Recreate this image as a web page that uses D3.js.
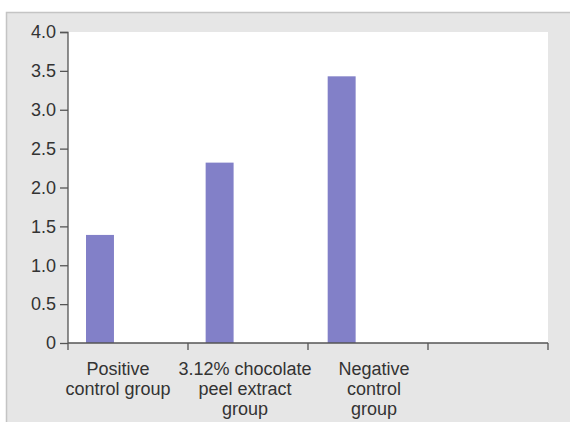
<!DOCTYPE html>
<html>
<head>
<meta charset="utf-8">
<script src="https://cdn.jsdelivr.net/npm/d3@7"></script>
<style>
  body { margin: 0; background: #fff; }
  svg { display: block; font-family: "Liberation Sans", Arial, sans-serif; }
  .axis path, .axis line { stroke: #555; stroke-width: 1.3; }
  .axis text { fill: #333; font-size: 18px; }
</style>
</head>
<body>
<div id="chart"></div>
<script>
// categories (4th slot is empty in the original)
const groups = ["Positive control group", "3.12% chocolate peel extract group", "Negative control group", ""];
const labelLines = [["Positive", "control group"], ["3.12% chocolate", "peel extract", "group"], ["Negative", "control", "group"], []];
const values = [1.39, 2.32, 3.43];
const yTicks = [0, 0.5, 1.0, 1.5, 2.0, 2.5, 3.0, 3.5, 4.0];

const W = 570, H = 422;
const margin = {top: 32, right: 22, bottom: 79, left: 68};
const width = W - margin.left - margin.right;
const height = H - margin.top - margin.bottom;

const svg = d3.select("#chart").append("svg")
    .attr("width", W)
    .attr("height", H);

// grey panel
svg.append("rect")
    .attr("x", 6.5).attr("y", 12.5)
    .attr("width", W).attr("height", H)
    .attr("fill", "#e6e6e6")
    .attr("stroke", "#c4c4c4")
    .attr("stroke-width", 1.5);

const g = svg.append("g")
    .attr("transform", `translate(${margin.left},${margin.top})`);

g.append("rect")
    .attr("width", width).attr("height", height)
    .attr("fill", "#fff");

const x = d3.scaleBand()
    .domain(groups.map((d, i) => i))
    .range([0, width])
    .padding(0);

const y = d3.scaleLinear()
    .domain([0, 4])
    .range([height, 0]);

// bars sit in the left part of each band
const barOffset = [0.15, 0.147, 0.164];
g.selectAll(".bar")
    .data(values)
    .join("rect")
    .attr("class", "bar")
    .attr("x", (d, i) => x(i) + x.bandwidth() * barOffset[i])
    .attr("y", d => y(d))
    .attr("width", x.bandwidth() * 0.233)
    .attr("height", d => height - y(d))
    .attr("fill", "#8280c8");

const yAxis = d3.axisLeft(y)
    .tickValues(yTicks)
    .tickSize(8)
    .tickPadding(4)
    .tickFormat(d => d === 0 ? "0" : d3.format(".1f")(d));

g.append("g")
    .attr("class", "y-axis axis")
    .call(yAxis)
    .call(s => s.select(".domain").attr("d", `M0,${height}V0.5H-8`));

// x axis: ticks at band edges
const xEdges = groups.map((d, i) => x(i)).concat([width]);
const xAxis = g.append("g")
    .attr("class", "x-axis axis")
    .attr("transform", `translate(0,${height})`);

xAxis.append("path")
    .attr("d", `M0,0H${width}`)
    .attr("fill", "none")
    .attr("stroke", "#555")
    .attr("stroke-width", 1.3);

xAxis.selectAll(".tick")
    .data(xEdges)
    .join("line")
    .attr("class", "tick")
    .attr("x1", d => d).attr("x2", d => d)
    .attr("y1", 0).attr("y2", 7);

// labels, nudged as in the original
const nudge = [-10, -3, 6, 0];
const labels = xAxis.selectAll(".xlabel")
    .data(labelLines)
    .join("text")
    .attr("class", "xlabel")
    .attr("text-anchor", "middle")
    .attr("transform", (d, i) => `translate(${x(i) + x.bandwidth() / 2 + nudge[i]},32)`);

labels.selectAll("tspan")
    .data(d => d)
    .join("tspan")
    .attr("x", 0)
    .attr("y", (d, i) => i * 20)
    .text(d => d);
</script>
</body>
</html>
